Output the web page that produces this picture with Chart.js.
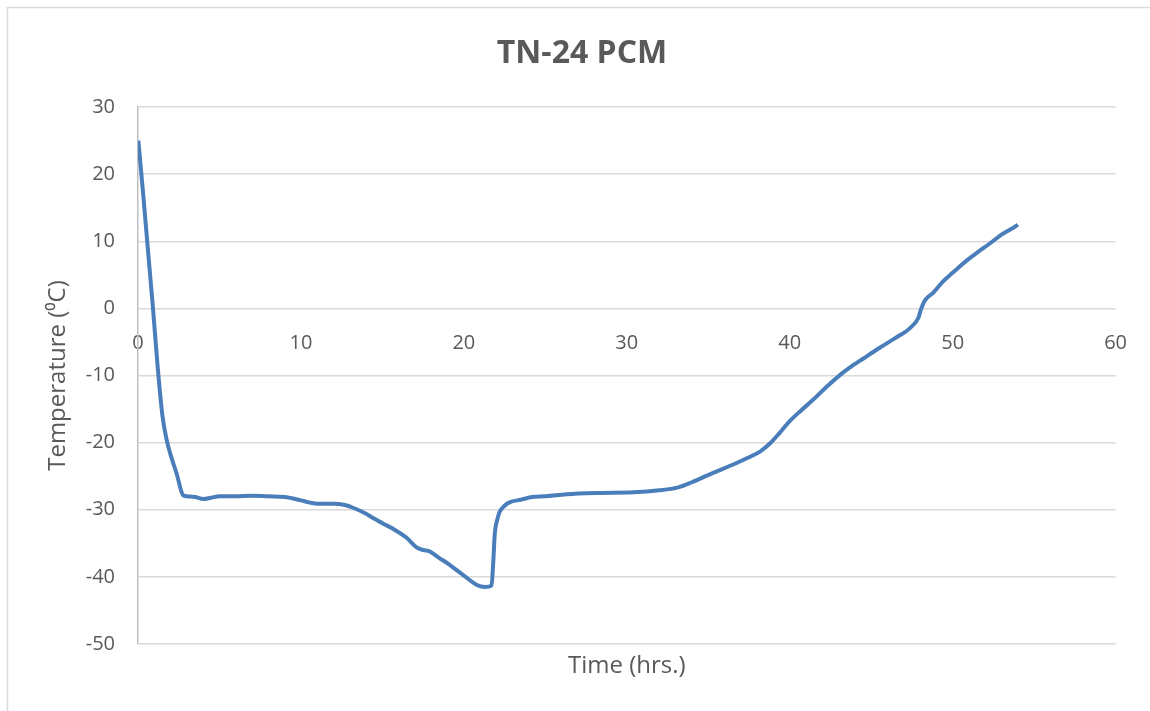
<!DOCTYPE html>
<html>
<head>
<meta charset="utf-8">
<script src="https://cdn.jsdelivr.net/npm/chart.js@4/dist/chart.umd.min.js"></script>
<style>
  html, body { margin: 0; padding: 0; background: #ffffff; }
  canvas { display: block; }
</style>
</head>
<body>
<canvas id="c" width="1150" height="711"></canvas>
<script>
// ---- Data ----
const chartTitle = 'TN-24 PCM';
const xAxisTitle = 'Time (hrs.)';
const yAxisTitle = 'Temperature (\u2070C)';
const xTicks = [0, 10, 20, 30, 40, 50, 60];
const yTicks = [-50, -40, -30, -20, -10, 0, 10, 20, 30];

const timeHrs = [
  0.02, 0.3, 0.6, 0.92, 1.2, 1.5, 1.76, 2.0, 2.37, 2.76, 3.0, 3.5, 4.0, 4.5, 5.0,
  6.0, 7.0, 8.0, 9.0, 10.0, 10.5, 11.0, 12.0, 12.7, 13.2, 14.0, 14.4, 15.0, 15.7, 16.5, 17.1,
  17.5, 17.9, 18.5, 19.0, 20.0, 20.8, 21.3, 21.7, 21.8, 21.9, 22.05, 22.2, 22.5, 22.8, 23.5,
  24.2, 25.0, 26.3, 28.3, 30.4, 32.0, 33.1, 34.0, 35.3, 36.5, 37.4, 38.2, 38.8, 39.4, 40.0,
  40.7, 41.4, 42.3, 43.1, 43.7, 44.5, 45.5, 46.5, 47.4, 47.9, 48.05, 48.3, 48.8, 49.4, 50.0,
  50.8, 51.5, 52.3, 53.0, 53.9, 54.0
];
const tempC = [
  25.0, 17.5, 9.0, 0.0, -8.5, -16.0, -19.6, -21.8, -24.6, -27.8, -28.0, -28.1, -28.4, -28.2, -28.0,
  -28.0, -27.9, -28.0, -28.1, -28.6, -28.9, -29.1, -29.1, -29.3, -29.7, -30.6, -31.2, -32.0, -32.9, -34.2, -35.6,
  -36.0, -36.2, -37.2, -38.0, -39.8, -41.2, -41.5, -41.3, -38.0, -33.5, -31.5, -30.3, -29.4, -28.9, -28.5,
  -28.1, -28.0, -27.7, -27.5, -27.4, -27.1, -26.7, -25.9, -24.5, -23.3, -22.3, -21.3, -20.1, -18.5, -16.8,
  -15.2, -13.7, -11.6, -9.9, -8.8, -7.5, -5.9, -4.4, -2.9, -1.4, -0.2, 1.2, 2.3, 4.0, 5.3,
  7.0, 8.3, 9.7, 11.0, 12.3, 12.5
];

const points = timeHrs.map((t, i) => ({ x: t, y: tempC[i] }));

const textColor = '#595959';
const gridColor = '#d9d9d9';
const FONT = "'Open Sans', 'Liberation Sans', sans-serif";

const frame = {
  id: 'frame',
  beforeDraw(chart) {
    const ctx = chart.ctx;
    ctx.save();
    ctx.fillStyle = '#ffffff';
    ctx.fillRect(0, 0, chart.width, chart.height);
    ctx.strokeStyle = gridColor;
    ctx.lineWidth = 1.5;
    ctx.strokeRect(7.5, 7.5, chart.width + 10, chart.height + 10);
    ctx.restore();
  }
};

new Chart(document.getElementById('c'), {
  type: 'line',
  data: {
    datasets: [{
      label: chartTitle,
      data: points,
      borderColor: '#4a7ebb',
      backgroundColor: '#4a7ebb',
      borderWidth: 4,
      pointRadius: 0,
      cubicInterpolationMode: 'monotone',
      fill: false,
      xAxisID: 'x',
      yAxisID: 'y'
    }]
  },
  options: {
    responsive: false,
    animation: false,
    devicePixelRatio: 1,
    layout: { padding: { left: 14, right: 0, top: 0, bottom: 0 } },
    plugins: {
      legend: { display: false },
      tooltip: { enabled: false },
      title: {
        display: true,
        text: chartTitle,
        color: textColor,
        font: { family: FONT, size: 32, weight: 'bold', lineHeight: 1.2 },
        padding: { top: 35, bottom: 33.6 }
      }
    },
    scales: {
      x: {
        type: 'linear',
        position: { y: 0 },
        min: xTicks[0],
        max: xTicks[xTicks.length - 1],
        afterBuildTicks(scale) { scale.ticks = xTicks.map(v => ({ value: v })); },
        grid: { display: false, drawTicks: false },
        border: { display: false },
        ticks: {
          color: textColor,
          font: { family: FONT, size: 20 },
          padding: 23,
          maxRotation: 0,
          autoSkip: false
        }
      },
      x2: {
        type: 'linear',
        position: 'bottom',
        min: 0,
        max: 60,
        grid: { display: false, drawTicks: false },
        border: { display: false },
        ticks: { display: false },
        title: {
          display: true,
          text: xAxisTitle,
          color: textColor,
          font: { family: FONT, size: 24, lineHeight: 1.2 },
          padding: { top: 0, bottom: 30 }
        },
        afterFit(scale) { scale.height = 67; }
      },
      y: {
        type: 'linear',
        position: 'left',
        min: yTicks[0],
        max: yTicks[yTicks.length - 1],
        afterBuildTicks(scale) { scale.ticks = yTicks.map(v => ({ value: v })); },
        grid: { color: gridColor, lineWidth: 1.5, drawTicks: false },
        border: { display: true, color: '#bfbfbf', width: 1.5 },
        ticks: {
          color: textColor,
          font: { family: FONT, size: 20 },
          padding: 23,
          autoSkip: false
        },
        title: {
          display: true,
          text: yAxisTitle,
          color: textColor,
          font: { family: FONT, size: 24, lineHeight: 1.2 },
          padding: { top: 30, bottom: 0 }
        },
        afterFit(scale) { scale.width = 124; }
      },
      y2: {
        type: 'linear',
        position: 'right',
        min: -50,
        max: 30,
        grid: { display: false, drawTicks: false },
        border: { display: false },
        ticks: { display: false },
        afterFit(scale) { scale.width = 34; }
      }
    }
  },
  plugins: [frame]
});
</script>
</body>
</html>
